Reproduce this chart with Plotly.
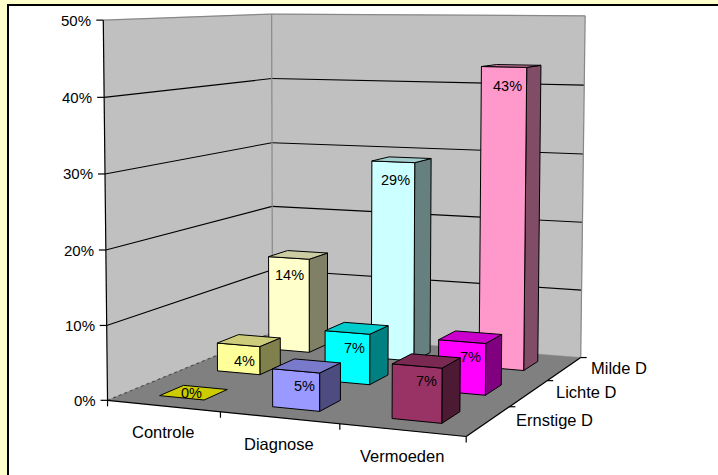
import numpy as np
import plotly.graph_objects as go

# ---- data -------------------------------------------------------------
categories = ["Controle", "Diagnose", "Vermoeden"]
series_names = ["Ernstige D", "Lichte D", "Milde D"]   # front row -> back row
ernstige = [0, 5, 7]
lichte = [4, 7, 7]
milde = [14, 29, 43]
value_ticks = [0, 10, 20, 30, 40, 50]
tick_labels = [f"{v}%" for v in value_ticks]

# face colour of every bar, rows in the same order as series_names
bar_colors = [
    ["#FFFF00", "#9999FF", "#993366"],
    ["#FFFF99", "#00FFFF", "#FF00FF"],
    ["#FFFFCC", "#CCFFFF", "#FF99CC"],
]

# ---- page / projection ------------------------------------------------
W, H = 718, 475
NX, NY = len(categories), len(series_names)
ZMAX = float(value_ticks[-1])
GAP = 0.3          # empty share on each side of a bar inside its cell
FONT = "Liberation Sans, Arial, sans-serif"

# where the corners of the 3-D chart box sit on the page (pixels)
frame_anchors = [
    ((0, 0, 0), (108, 400)),
    ((NX, 0, 0), (466, 437)),
    ((NX, NY, 0), (581, 357)),
    ((0, NY, 0), (272, 333)),
    ((0, 0, ZMAX), (103, 20)),
    ((0, NY, ZMAX), (272, 14)),
    ((NX, NY, ZMAX), (585, 16)),
]


def fit_camera(anchors):
    """Perspective camera (3x4 matrix) through the box corners (DLT)."""
    rows = []
    for (X, Y, Z), (u, v) in anchors:
        xn, yn, zn = X / NX, Y / NY, Z / ZMAX
        un, vn = (u - 350) / 300, (v - 240) / 300
        rows.append([xn, yn, zn, 1, 0, 0, 0, 0, -un * xn, -un * yn, -un * zn, -un])
        rows.append([0, 0, 0, 0, xn, yn, zn, 1, -vn * xn, -vn * yn, -vn * zn, -vn])
    _, _, vt = np.linalg.svd(np.array(rows, dtype=float))
    return vt[-1].reshape(3, 4)


CAM = fit_camera(frame_anchors)


def proj(X, Y, Z):
    h = CAM @ np.array([X / NX, Y / NY, Z / ZMAX, 1.0])
    return 350 + 300 * h[0] / h[2], 240 + 300 * h[1] / h[2]


def shade(hex_color, k):
    r, g, b = (int(hex_color[i:i + 2], 16) for i in (1, 3, 5))
    return "#%02X%02X%02X" % (round(r * k), round(g * k), round(b * k))


fig = go.Figure()


def polygon(pts3d, fill, line="#000000", width=1.0):
    pts = [proj(*p) for p in pts3d]
    xs = [p[0] for p in pts] + [pts[0][0]]
    ys = [p[1] for p in pts] + [pts[0][1]]
    fig.add_trace(go.Scatter(
        x=xs, y=ys, mode="lines", fill="toself", fillcolor=fill,
        line=dict(color=line, width=width), hoverinfo="skip", showlegend=False))


def segments(segs, color, width=1.0, dash="solid"):
    xs, ys = [], []
    for a, b in segs:
        xs += [a[0], b[0], None]
        ys += [a[1], b[1], None]
    fig.add_trace(go.Scatter(
        x=xs, y=ys, mode="lines", line=dict(color=color, width=width, dash=dash),
        hoverinfo="skip", showlegend=False))


# ---- walls and floor ----------------------------------------------------
polygon([(0, 0, 0), (0, NY, 0), (0, NY, ZMAX), (0, 0, ZMAX)], "#C0C0C0", "#C0C0C0", 0.5)
polygon([(0, NY, 0), (NX, NY, 0), (NX, NY, ZMAX), (0, NY, ZMAX)], "#C0C0C0", "#C0C0C0", 0.5)
polygon([(0, 0, 0), (NX, 0, 0), (NX, NY, 0), (0, NY, 0)], "#808080", "#808080", 0.5)

grid = []
for z in value_ticks[1:-1]:
    grid.append((proj(0, 0, z), proj(0, NY, z)))
    grid.append((proj(0, NY, z), proj(NX, NY, z)))
segments(grid, "#000000", 1.1)

segments([(proj(0, 0, ZMAX), proj(0, NY, ZMAX)),
          (proj(0, NY, ZMAX), proj(NX, NY, ZMAX)),
          (proj(0, NY, 0), proj(0, NY, ZMAX)),
          (proj(NX, NY, 0), proj(NX, NY, ZMAX))], "#888888", 1.2)
segments([(proj(0, 0, 0), proj(0, NY, 0))], "#505050", 1.2, "dot")

# axes and tick marks
axes = [(proj(0, 0, 0), proj(0, 0, ZMAX)),
        (proj(0, 0, 0), proj(NX, 0, 0)),
        (proj(NX, 0, 0), proj(NX, NY, 0))]
for z in value_ticks:
    u, v = proj(0, 0, z)
    axes.append(((u - 7, v), (u, v)))
for i in range(NX + 1):
    u, v = proj(i, 0, 0)
    axes.append(((u, v), (u, v + 6)))
for j in range(1, NY + 1):
    u, v = proj(NX, j, 0)
    axes.append(((u, v), (u + 6, v)))
segments(axes, "#000000", 1.2)

# ---- bars -----------------------------------------------------------------
rows = [ernstige, lichte, milde]
annotations = []
for j in reversed(range(NY)):          # back row first
    for i in range(NX):                # left to right
        val = rows[j][i]
        col = bar_colors[j][i]
        x0, x1 = i + GAP, i + 1 - GAP
        y0, y1 = j + GAP, j + 1 - GAP
        if val > 0:
            polygon([(x1, y0, 0), (x1, y1, 0), (x1, y1, val), (x1, y0, val)], shade(col, 0.5))
            polygon([(x0, y0, 0), (x1, y0, 0), (x1, y0, val), (x0, y0, val)], col)
        polygon([(x0, y0, val), (x1, y0, val), (x1, y1, val), (x0, y1, val)], shade(col, 0.8))

        # value label, right-aligned inside the front face near the top
        fr_u, fr_v = proj(x1, y0, 0)
        tu, tv = proj(x1, y0, val)
        cu, cv = proj((x0 + x1) / 2, (y0 + y1) / 2, val)
        ly = min(cv + 20, fr_v - 7)
        lx = tu - 3 if val > 0 else tu
        annotations.append(dict(
            x=lx, y=ly, text=f"{val}%", xanchor="right", yanchor="middle",
            showarrow=False, font=dict(family=FONT, size=14.5, color="#000000")))

# ---- axis labels -----------------------------------------------------------
for z, lab in zip(value_ticks, tick_labels):
    u, v = proj(0, 0, z)
    annotations.append(dict(x=u - 10, y=v, text=lab, xanchor="right", yanchor="middle",
                            showarrow=False, font=dict(family=FONT, size=15, color="#000000")))
for i, lab in enumerate(categories):
    u, v = proj(i + 0.5, 0, 0)
    annotations.append(dict(x=u, y=v + 26, text=lab, xanchor="center", yanchor="middle",
                            showarrow=False, font=dict(family=FONT, size=16.5, color="#000000")))
for j, lab in enumerate(series_names):
    u, v = proj(NX, j + 0.5, 0)
    annotations.append(dict(x=u + 25, y=v - 1, text=lab, xanchor="left", yanchor="middle",
                            showarrow=False, font=dict(family=FONT, size=16.5, color="#000000")))

fig.update_layout(
    width=W, height=H,
    margin=dict(l=0, r=0, t=0, b=0),
    paper_bgcolor="#FFFFCC",
    plot_bgcolor="#FFFFCC",
    showlegend=False,
    xaxis=dict(range=[0, W], visible=False, fixedrange=True),
    yaxis=dict(range=[H, 0], visible=False, fixedrange=True),
    annotations=annotations,
    shapes=[dict(type="rect", xref="x", yref="y", x0=8, y0=5, x1=W + 10, y1=H + 10,
                 fillcolor="#FFFFFF", line=dict(color="#000000", width=2), layer="below")],
)

fig.write_html("out.html")
